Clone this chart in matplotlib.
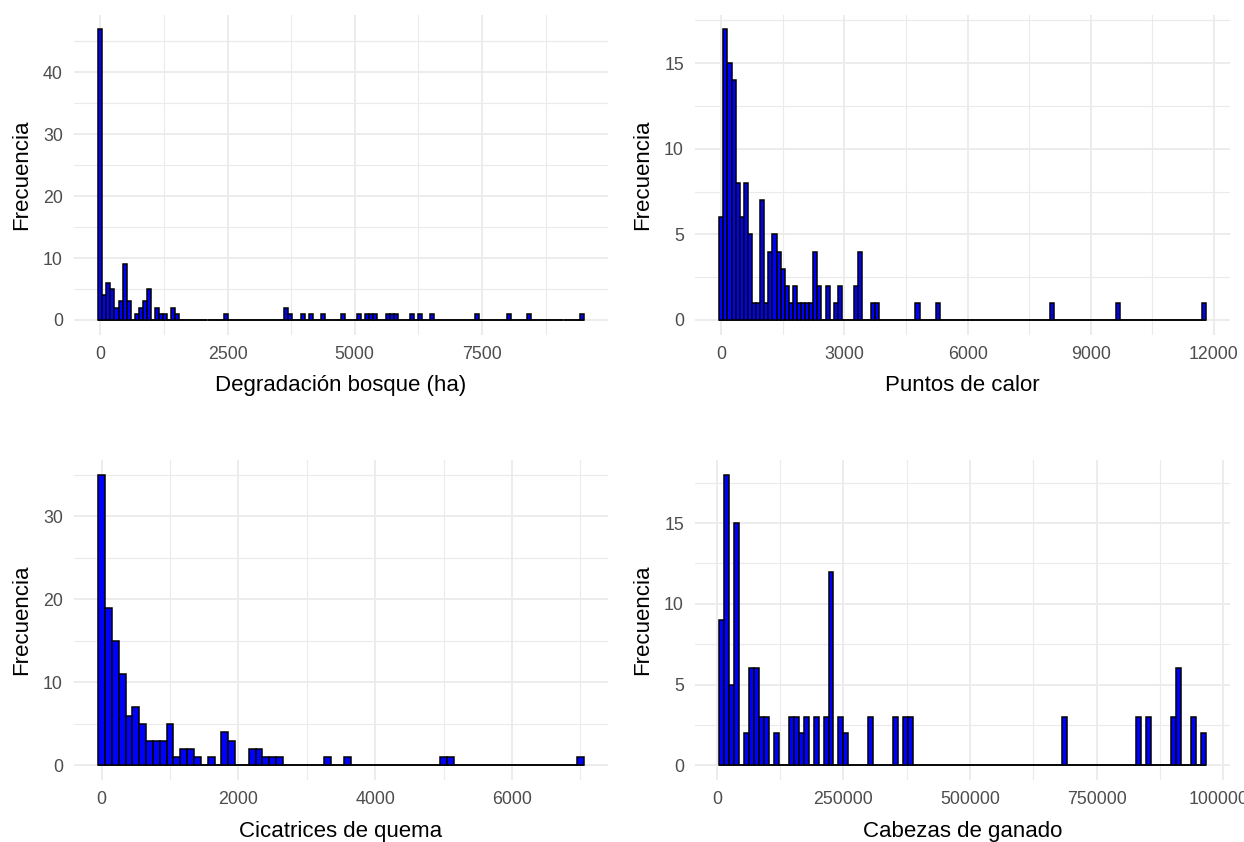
import numpy as np
import matplotlib
matplotlib.use("Agg")
import matplotlib.pyplot as plt
from matplotlib.ticker import FixedLocator, FuncFormatter

plt.rcParams['font.family'] = ['Liberation Sans', 'DejaVu Sans']

# ---- Histogram counts (bin index -> count; bin centre = index * width) ----
# Degradación bosque (ha)
deg_width = 79.5
deg_bins = [0, 1, 2, 3, 4, 5, 6, 7, 9, 10, 11, 12, 14, 15, 16, 18, 19,
            31, 46, 47, 50, 52, 55, 60, 64, 66, 67, 68, 71, 72, 73, 77, 79,
            82, 93, 101, 106, 119]
deg_counts = [47, 4, 6, 5, 2, 3, 9, 3, 1, 2, 3, 5, 2, 1, 1, 2, 1,
              1, 2, 1, 1, 1, 1, 1, 1, 1, 1, 1, 1, 1, 1, 1, 1,
              1, 1, 1, 1, 1]

# Puntos de calor
cal_width = 99.6
cal_bins = [0, 1, 2, 3, 4, 5, 6, 7, 8, 9, 10, 11, 12, 13, 14, 15, 16, 17,
            18, 19, 20, 21, 22, 23, 24, 26, 28, 29, 33, 34, 37, 38, 48, 53,
            81, 97, 118]
cal_counts = [6, 17, 15, 14, 8, 6, 8, 5, 1, 1, 7, 1, 4, 5, 4, 3, 2, 1,
              2, 1, 1, 1, 1, 4, 2, 2, 1, 2, 2, 4, 1, 1, 1, 1,
              1, 1, 1]

# Cicatrices de quema
cic_width = 100
cic_bins = [0, 1, 2, 3, 4, 5, 6, 7, 8, 9, 10, 11, 12, 13, 14, 16, 18, 19,
            22, 23, 24, 25, 26, 33, 36, 50, 51, 70]
cic_counts = [35, 19, 15, 11, 6, 7, 5, 3, 3, 3, 5, 1, 2, 2, 1, 1, 4, 3,
              2, 2, 1, 1, 1, 1, 1, 1, 1, 1]

# Cabezas de ganado
gan_width = 9800
gan_bins = [1, 2, 3, 4, 6, 7, 8, 9, 10, 12, 15, 16, 17, 18, 20, 22, 23,
            25, 26, 31, 36, 38, 39, 70, 85, 87, 92, 93, 96, 98]
gan_counts = [9, 18, 5, 15, 2, 6, 6, 3, 3, 2, 3, 3, 2, 3, 3, 3, 12,
              3, 2, 3, 3, 3, 3, 3, 3, 3, 3, 6, 3, 2]

# ---- Axis breaks ----
deg_xticks = [0, 2500, 5000, 7500]
deg_yticks = [0, 10, 20, 30, 40]
cal_xticks = [0, 3000, 6000, 9000, 12000]
cal_yticks = [0, 5, 10, 15]
cic_xticks = [0, 2000, 4000, 6000]
cic_yticks = [0, 10, 20, 30]
gan_xticks = [0, 250000, 500000, 750000, 1000000]
gan_yticks = [0, 5, 10, 15]

xlabels = ["Degradación bosque (ha)", "Puntos de calor",
           "Cicatrices de quema", "Cabezas de ganado"]

panels = [
    (deg_width, deg_bins, deg_counts, deg_xticks, deg_yticks),
    (cal_width, cal_bins, cal_counts, cal_xticks, cal_yticks),
    (cic_width, cic_bins, cic_counts, cic_xticks, cic_yticks),
    (gan_width, gan_bins, gan_counts, gan_xticks, gan_yticks),
]

W, H = 1244, 842
fig = plt.figure(figsize=(W / 100, H / 100), dpi=100)
fig.patch.set_facecolor('white')

# panel rectangles in pixels: left, top, width, height
rects = [(74, 14.5, 534, 320), (695, 14.5, 535, 320),
         (74, 460, 534, 320), (695, 460, 535, 320)]

GRID = '#EBEBEB'
TICKC = '#4D4D4D'


def minor_between(ticks):
    step = ticks[1] - ticks[0]
    vals = [t + step / 2 for t in ticks]
    vals.insert(0, ticks[0] - step / 2)
    return vals


for (w, bins, counts, xt, yt), label, (l, t, pw, ph) in zip(panels, xlabels, rects):
    ax = fig.add_axes([l / W, 1 - (t + ph) / H, pw / W, ph / H])
    nb = max(bins) + 1
    first = min(bins)
    full = np.zeros(nb)
    full[bins] = counts
    idx = np.arange(first, nb)
    centres = idx * w
    heights = full[first:]
    lo = (first - 0.5) * w
    hi = (nb - 0.5) * w

    # empty bins collapse to a flat outline along zero
    ax.hlines(0, lo, hi, color='black', linewidth=1.1, zorder=2)
    ax.bar(centres, heights, width=w, color='#0000FF', edgecolor='black',
           linewidth=1.1, zorder=3)

    span = hi - lo
    ax.set_xlim(lo - 0.05 * span, hi + 0.05 * span)
    ymax = max(counts)
    ax.set_ylim(-0.05 * ymax, 1.05 * ymax)

    ax.xaxis.set_major_locator(FixedLocator(xt))
    ax.yaxis.set_major_locator(FixedLocator(yt))
    ax.xaxis.set_minor_locator(FixedLocator(minor_between(xt)))
    ax.yaxis.set_minor_locator(FixedLocator(minor_between(yt) + [yt[-1] + (yt[1] - yt[0]) / 2]))
    ax.xaxis.set_major_formatter(FuncFormatter(lambda v, p: f"{int(round(v))}"))
    ax.yaxis.set_major_formatter(FuncFormatter(lambda v, p: f"{int(round(v))}"))

    ax.grid(which='major', color=GRID, linewidth=1.3, zorder=0)
    ax.grid(which='minor', color=GRID, linewidth=0.8, zorder=0)
    ax.set_axisbelow(True)
    for s in ax.spines.values():
        s.set_visible(False)
    ax.tick_params(which='both', length=0)
    ax.tick_params(axis='x', labelsize=12.8, colors=TICKC, pad=8)
    ax.tick_params(axis='y', labelsize=12.8, colors=TICKC, pad=8)
    ax.set_xlabel(label, fontsize=16, color='black', labelpad=9)
    ax.set_ylabel("Frecuencia", fontsize=16, color='black', labelpad=8)

fig.savefig("out.png", dpi=100, facecolor='white')
